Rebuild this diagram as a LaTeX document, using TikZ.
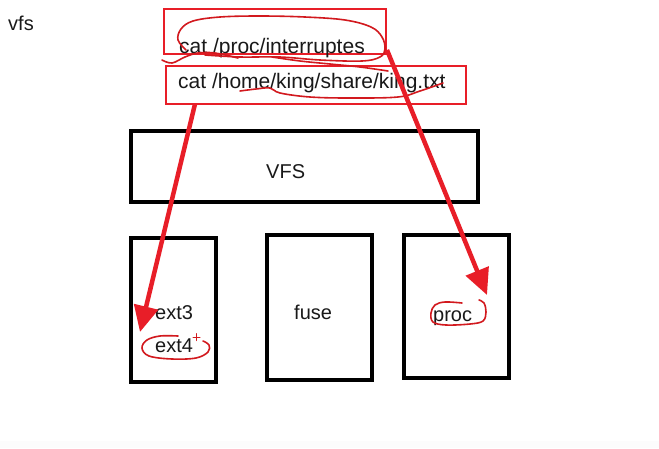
\documentclass[tikz,border=0pt]{standalone}
\usepackage{fontspec}
\setmainfont{Liberation Sans}
\usetikzlibrary{arrows.meta}
\definecolor{inkred}{RGB}{232,30,40}
\definecolor{scribred}{RGB}{210,25,30}
\definecolor{txtc}{RGB}{25,25,25}
\tikzset{
  lbl/.style={inner sep=0pt, text=txtc, font=\fontsize{20}{24}\selectfont},
  toplbl/.style={inner sep=0pt, text=txtc, font=\fontsize{21}{25}\selectfont},
  blackbox/.style={draw=black, line width=4pt, inner sep=0pt},
  redbox/.style={draw=inkred, line width=2pt, inner sep=0pt},
  bigarrow/.style={draw=inkred, line width=4.5pt, -{Triangle[length=26pt,width=24pt]}},
  scrib/.style={draw=scribred, line width=1.6pt, line cap=round, line join=round},
}
\begin{document}
\begin{tikzpicture}[x=1pt,y=-1pt]
\useasboundingbox (0,0) rectangle (659,448);
\fill[white] (0,0) rectangle (659,448);
\fill[black!1] (0,441) rectangle (659,448);

% title
\node[lbl, anchor=base west] (title) at (8,30) {vfs};

% red command boxes
\node[redbox, minimum width=222, minimum height=45] (r1) at (275,31.5) {};
\node[redbox, minimum width=300, minimum height=38] (r2) at (316,85) {};
\node[toplbl, anchor=base west] (cmd1) at (179,53) {cat /proc/interruptes};
\node[toplbl, anchor=base west] (cmd2) at (178,88) {cat /home/king/share/king.txt};

% black boxes
\node[blackbox, minimum width=347, minimum height=71] (vfsbox) at (304,166.5) {};
\node[lbl, anchor=base west] (vfslbl) at (266,178) {VFS};
\node[blackbox, minimum width=85, minimum height=144] (extbox) at (173.5,310) {};
\node[blackbox, minimum width=105, minimum height=145] (fusebox) at (319.5,307.5) {};
\node[blackbox, minimum width=105, minimum height=143] (procbox) at (456.5,306.5) {};
\node[lbl, anchor=base west] (ext3) at (155,319) {ext3};
\node[lbl, anchor=base west] (ext4) at (155,352) {ext4};
\node[lbl, anchor=base west] (fuse) at (294,319) {fuse};
\node[lbl, anchor=base west] (proc) at (433,321) {proc};

% freehand scribbles
\draw[scrib] plot[smooth, tension=0.6] coordinates {(186,50) (178,40) (181,29) (193,21) (220,17) (260,16) (305,17) (345,20) (371,27) (382,37) (385,49) (380,57) (362,61) (320,60) (280,57) (240,57) (205,55)};
\draw[scrib] plot[smooth, tension=0.6] coordinates {(162,60) (172,63) (185,57) (198,53) (215,53) (238,58)};
\draw[scrib] plot[smooth, tension=0.6] coordinates {(272,57) (300,61) (330,64) (360,67) (388,71)};
\draw[scrib] plot[smooth, tension=0.6] coordinates {(240,91) (256,89) (270,88) (280,93) (310,97) (350,98) (398,97) (420,91) (443,83)};
\draw[scrib] plot[smooth, tension=0.6] coordinates {(178,336) (160,336) (147,340) (142,348) (149,356) (172,359) (196,358) (208,352) (209,345) (203,341)};
\draw[scrib, line width=1pt] (193,337) -- (200,337) (196.5,333.5) -- (196.5,340.5);
\draw[scrib] plot[smooth, tension=0.6] coordinates {(462,303) (445,302) (435,305) (431,313) (433,322) (446,325) (470,324) (483,321) (486,312) (484,303) (479,300)};

% arrows
\coordinate (s1) at (195,104);
\coordinate (t1) at (140,332);
\coordinate (s2) at (387,50);
\coordinate (t2) at (487,295);
\draw[bigarrow] (s1) -- (t1);
\draw[bigarrow] (s2) -- (t2);
\end{tikzpicture}
\end{document}
